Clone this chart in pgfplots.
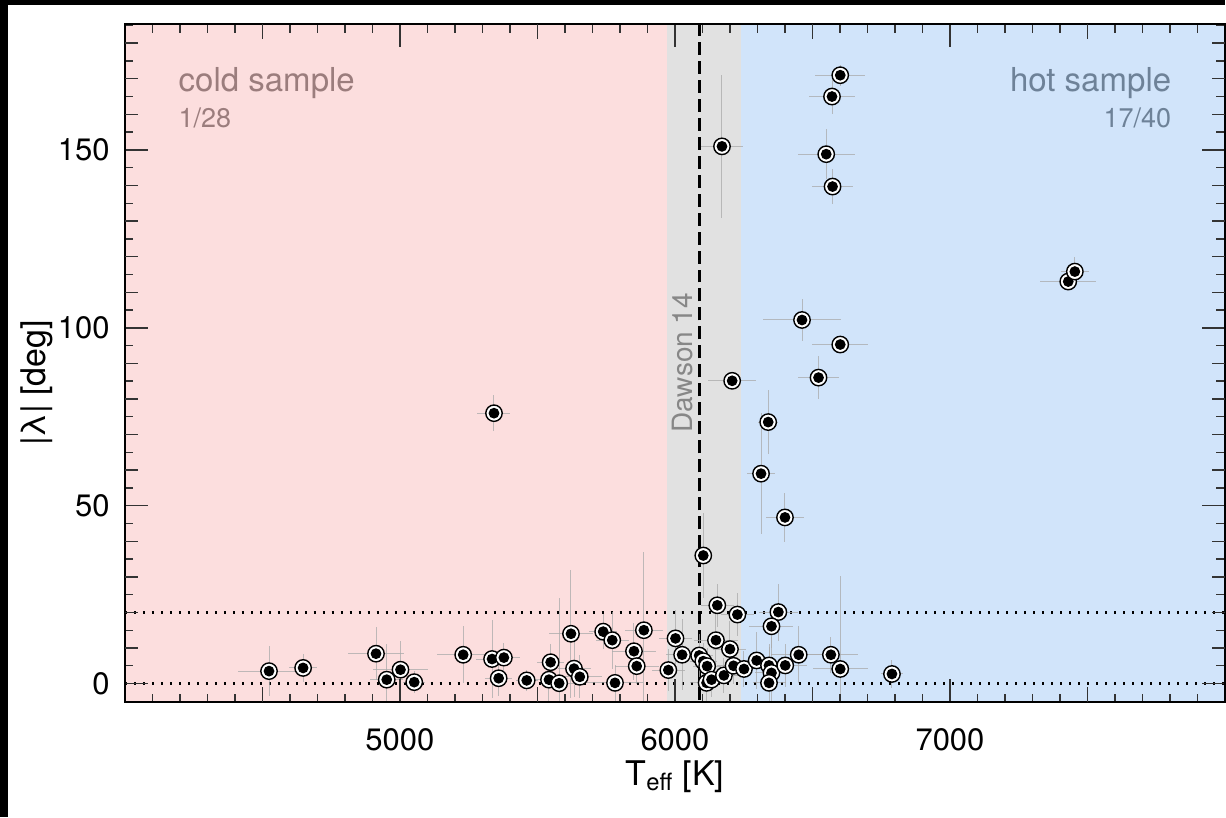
\documentclass[border=0pt]{standalone}
\usepackage{fontspec}
\setmainfont{TeX Gyre Heros}
\usepackage{pgfplots}
\pgfplotsset{compat=1.18}
\usepackage{pgfplotstable}

\definecolor{pinkbg}{RGB}{252,222,222}
\definecolor{bluebg}{RGB}{209,228,250}
\definecolor{graybg}{RGB}{225,225,225}
\definecolor{coldtxt}{RGB}{155,125,125}
\definecolor{hottxt}{RGB}{110,130,152}
\definecolor{dawtxt}{RGB}{135,135,135}
\definecolor{errgray}{RGB}{170,170,170}

% bullseye marker: black ring, white gap, black dot
\pgfdeclareplotmark{ringdot}{%
  \pgfpathcircle{\pgfpointorigin}{\pgfplotmarksize}%
  \pgfsetfillcolor{white}\pgfsetstrokecolor{black}%
  \pgfusepathqfillstroke
  \pgfpathcircle{\pgfpointorigin}{0.66\pgfplotmarksize}%
  \pgfsetfillcolor{black}%
  \pgfusepathqfill
}

% T_eff, |lambda|, errors
\pgfplotstableread{
T L eT eL
5342 76.0 60 5
6171 151.0 78 20
6601 171.0 91 3
6571 165.0 82 5
6550 148.8 103 7
6573 139.7 73 5
6462 102.2 142 6
6601 95.3 101 2
6522 86.0 73 6
6208 85.1 88 2
7430 113.0 102 2
7454 115.8 50 4
6339 73.5 36 9
6313 59.0 51 17
6400 46.7 70 7
6103 36.0 30 12
4524 3.5 112 7
4648 4.4 50 4
4913 8.4 100 7.5
4952 1.1 60 10
5002 3.9 100 8
5052 0.4 40 3
5230 8.1 97 8
5335 6.9 60 11
5378 7.3 60 4
5359 1.5 50 5
5461 0.9 40 3
5548 6.0 50 5
5542 1.1 60 6
5579 0.1 60 24
5622 14.0 80 18
5633 4.2 60 8
5654 1.9 80 6
5739 14.6 50 5
5772 12.2 60 8
5782 0.2 100 5
5851 9.1 80 8
5861 4.9 80 5
5887 15.0 70 22
5976 3.8 60 6
6002 12.7 60 8
6026 8.1 60 10
6088 7.9 50 6
6103 6.3 50 5
6117 4.9 50 5
6115 0.2 60 6
6133 1.1 40 5
6154 22.0 60 6
6227 19.4 60 6
6149 12.2 80 8
6200 9.7 60 8
6178 2.3 60 5
6213 5.0 60 5
6376 20.1 70 8
6351 16.1 80 6
6251 4.1 60 5
6297 6.5 60 8
6342 5.1 80 6
6351 3.0 60 10
6342 0.2 60 10
6401 5.1 80 6
6450 8.1 100 8
6567 8.1 100 5
6601 4.1 100 26
6789 2.7 40 4
}\rmdata

\begin{document}
\begin{tikzpicture}
\begin{scope}[x=0.5pt,y=0.5pt]
\path (-125,-115) rectangle (1101,703);
\fill[black] (-125,698) rectangle (1101,703);
\fill[black] (-125,-115) rectangle (-117,703);
\end{scope}
\begin{axis}[
  at={(0,0)}, anchor=south west,
  scale only axis, width=550.5pt, height=339.5pt,
  xmin=4000, xmax=8000, ymin=-5.3, ymax=185.4,
  axis on top,
  axis line style={black, line width=1pt},
  tick style={black!80, line width=0.7pt},
  xtick={5000,6000,7000},
  minor xtick={4000,4100,...,8000},
  ytick={0,50,100,150},
  minor ytick={-5,0,...,185},
  major tick length=11.5pt,
  minor tick length=4.3pt,
  extra x ticks={4500,5500,6500,7500},
  extra x tick labels={},
  extra x tick style={major tick length=7.5pt},
  extra y ticks={10,20,30,40,60,70,80,90,110,120,130,140,160,170,180},
  extra y tick labels={},
  extra y tick style={major tick length=6.5pt},
  scaled x ticks=false,
  /pgf/number format/1000 sep={},
  /pgf/number format/assume math mode=true,
  ticklabel style={font=\fontsize{15.5}{16}\selectfont},
  xticklabel style={anchor=base, yshift=-24pt},
  yticklabel style={anchor=east, inner sep=0pt, xshift=-7.5pt},
  xlabel={T\textsubscript{eff} [K]},
  ylabel={|λ| [deg]},
  xlabel style={font=\fontsize{17}{18}\selectfont, at={(axis description cs:0.5,-0.1222)}, anchor=base},
  ylabel style={font=\fontsize{17}{18}\selectfont, at={(axis description cs:-0.0718,0.471)}, anchor=base},
]
% background regions
\addplot[draw=none, fill=pinkbg] coordinates {(3900,-10) (5970,-10) (5970,200) (3900,200)} -- cycle;
\addplot[draw=none, fill=graybg] coordinates {(5970,-10) (6240,-10) (6240,200) (5970,200)} -- cycle;
\addplot[draw=none, fill=bluebg] coordinates {(6240,-10) (8100,-10) (8100,200) (6240,200)} -- cycle;
% reference lines
\addplot[black, line width=1.1pt, dash pattern=on 1pt off 3.5pt] coordinates {(4000,0) (8000,0)};
\addplot[black, line width=1.1pt, dash pattern=on 1pt off 3.5pt] coordinates {(4000,20) (8000,20)};
\addplot[black, line width=1.3pt, dash pattern=on 6.5pt off 3pt] coordinates {(6090,-10) (6090,200)};
% error bars
\addplot[draw=none, mark=none,
  error bars/.cd, x dir=both, x explicit, y dir=both, y explicit,
  error mark=none, error bar style={draw=errgray, line width=0.5pt, opacity=0.75}]
  table[x=T, y=L, x error=eT, y error=eL] {\rmdata};
% points
\addplot[only marks, mark=ringdot, mark size=4.1pt, mark options={line width=0.7pt}]
  table[x=T, y=L] {\rmdata};
% labels
\node[anchor=base west, text=coldtxt, font=\fontsize{16.5}{17}\selectfont] at (axis cs:4170,166.3) {cold sample};
\node[anchor=base west, text=coldtxt, font=\fontsize{13.5}{14}\selectfont] at (axis cs:4170,156.2) {1/28};
\node[anchor=base east, text=hottxt, font=\fontsize{16.5}{17}\selectfont] at (axis cs:7830,166.3) {hot sample};
\node[anchor=base east, text=hottxt, font=\fontsize{13.5}{14}\selectfont] at (axis cs:7830,156.2) {17/40};
\node[anchor=base, rotate=90, text=dawtxt, font=\fontsize{14}{15}\selectfont] at (axis cs:6062,90.2) {Dawson 14};
\end{axis}
\end{tikzpicture}
\end{document}
